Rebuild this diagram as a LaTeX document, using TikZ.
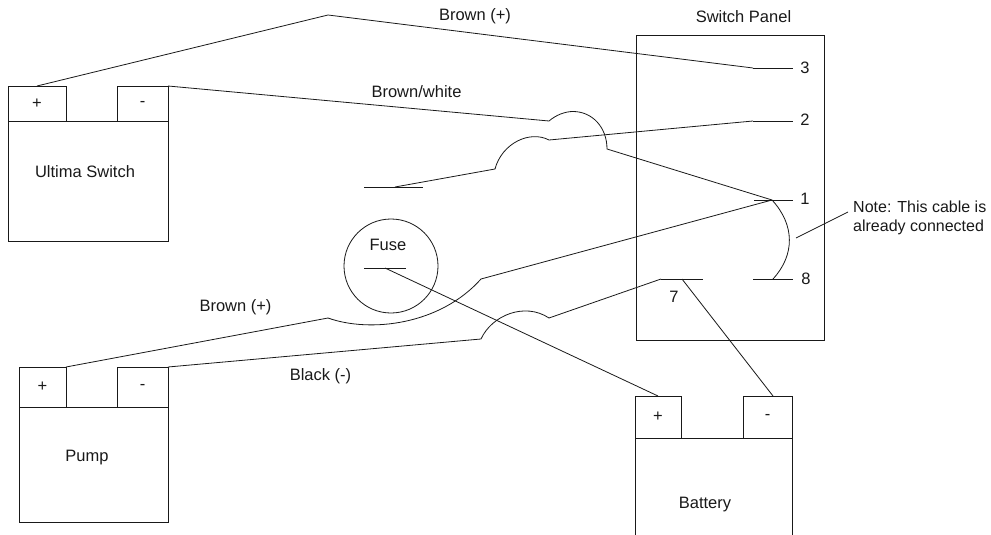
\documentclass[tikz,border=0pt]{standalone}
\usepackage{fontspec}
\setmainfont{Liberation Sans}
\colorlet{fg}{black!90}
\tikzset{
	partbox/.style={draw=fg,line width=0.8pt,inner sep=0pt,outer sep=0pt,anchor=north west,text=fg,font=\fontsize{16.5}{19}\selectfont},
	wire/.style={draw=fg,line width=0.8pt},
	txt/.style={text=fg,font=\fontsize{16.5}{19}\selectfont,inner sep=0pt,align=left}
}

\begin{document}
\begin{tikzpicture}[x=1pt,y=-1pt]
	    \useasboundingbox (0,0) rectangle (991,535);
	    \clip (0,0) rectangle (991,535);

	    % devices
	    \node[partbox,minimum width=160pt,minimum height=120pt] (ultima) at (8,121) {};
	    \node[partbox,minimum width=58pt,minimum height=35pt] (ultimaplus) at (8,86) {+};
	    \node[partbox,minimum width=51pt,minimum height=35pt] (ultimaminus) at (117,86) {-};
	    \node[partbox,minimum width=149pt,minimum height=115pt] (pump) at (19,407) {};
	    \node[partbox,minimum width=47pt,minimum height=40pt] (pumpplus) at (19,367) {+};
	    \node[partbox,minimum width=51pt,minimum height=40pt] (pumpminus) at (117,367) {-};
	    \node[partbox,minimum width=157pt,minimum height=120pt] (battery) at (635,438) {};
	    \node[partbox,minimum width=46pt,minimum height=42pt] (batteryplus) at (635,396) {+};
	    \node[partbox,minimum width=49pt,minimum height=42pt] (batteryminus) at (743,396) {-};
	    \node[partbox,minimum width=188pt,minimum height=305pt] (panel) at (636,35) {};
	    \node[draw=fg,line width=0.8pt,circle,minimum size=94pt,inner sep=0pt,outer sep=0pt] (fuse) at (391,266) {};

	    % texts
	    \node[txt] (ultimatext) at (85,172) {Ultima Switch};
	    \node[txt] (pumptext) at (87,458) {Pump};
	    \node[txt] (batterytext) at (705,505) {Battery};
	    \node[txt] (paneltext) at (743.5,17) {Switch Panel};
	    \node[txt] (fusetext) at (388,245) {Fuse};
	    \node[txt] (wiretop) at (475,16) {Brown (+)};
	    \node[txt] (wirewhite) at (416.5,92) {Brown/white};
	    \node[txt] (wirelow) at (235.5,307) {Brown (+)};
	    \node[txt] (wireblack) at (320.5,376) {Black (-)};
	    \node[txt] (num3) at (805,68) {3};
	    \node[txt] (num2) at (805,120) {2};
	    \node[txt] (num1) at (805,199) {1};
	    \node[txt] (num8) at (806,279) {8};
	    \node[txt] (num7) at (674,297) {7};
	    \node[txt,anchor=west,font=\fontsize{16}{19}\selectfont] (note) at (853,218) {Note: This cable is\\already connected};

	    % terminals
	    \coordinate (t3) at (753,68);
	    \coordinate (t2) at (753,121);
	    \coordinate (t1) at (772,200);
	    \coordinate (t8) at (773,279);
	    \coordinate (t7) at (661,279);
	    \coordinate (t7b) at (682,279);
	    \coordinate (tfuse) at (385,268);
	    \coordinate (tloose) at (395,187);
	    \coordinate (minusbat) at (773,396);
	    \coordinate (plusbat) at (658,396);
	    \coordinate (noteend) at (796,238);
	    \coordinate (notestart) at (848,212);
	    \draw[wire] (t3) -- (793,68);
	    \draw[wire] (t2) -- (793,121);
	    \draw[wire] (754,200) -- (793,200);
	    \draw[wire] (753,279) -- (793,279);
	    \draw[wire] (t7) -- (703,279);
	    \draw[wire] (364,268) -- (406,268);
	    \draw[wire] (364,187) -- (423,187);

	    % cables
	    \draw[wire] (ultimaplus.north) -- (328,15) -- (t3);
	    \draw[wire] (ultimaminus.north east) -- (549,121) .. controls (556,115) and (565,111.5) .. (573,111.5) .. controls (592,111.5) and (607,127) .. (607,149) -- (t1);
	    \draw[wire] (tloose) -- (495,169) .. controls (502,143) and (530,130) .. (549,140) -- (t2);
	    \draw[wire] (pumpplus.north east) -- (328,318) .. controls (370,333) and (440,325) .. (481,279) -- (t1);
	    \draw[wire] (pumpminus.north east) -- (481,339) .. controls (492,315) and (525,302) .. (549,318) -- (t7);
	    \draw[wire] (tfuse) -- (plusbat);
	    \draw[wire] (t7b) -- (minusbat);
	    \draw[wire] (t1) .. controls (795,225) and (795,255) .. (t8);
	    \draw[wire] (noteend) -- (notestart);
        \end{tikzpicture}
\end{document}
